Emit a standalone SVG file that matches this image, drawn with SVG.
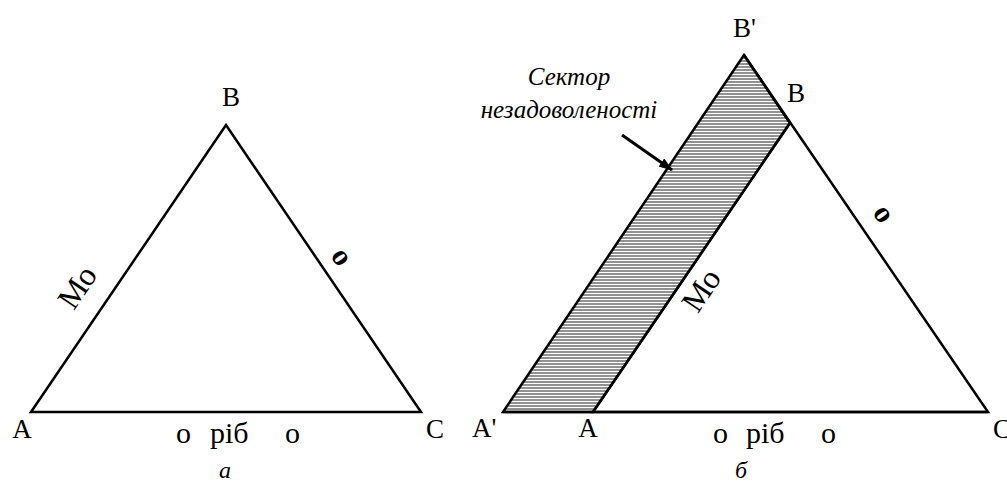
<svg xmlns="http://www.w3.org/2000/svg" width="1007" height="486" viewBox="0 0 1007 486">
<style>
.edge{fill:none;stroke:#000;stroke-width:2.5;stroke-linejoin:miter}
.lbl{font-family:"Liberation Serif","DejaVu Serif",serif;font-size:27px;fill:#000}
.cyr{font-family:"Liberation Serif","DejaVu Serif",serif;fill:#000}
.side{font-size:32px}
.bold{font-size:30px;font-weight:bold}
.bottom{font-size:30px}
.ital{font-style:italic;font-size:25px}
.cap{font-style:italic;font-size:24px}
</style>
<defs>
<pattern id="hatch" patternUnits="userSpaceOnUse" width="10" height="3">
<rect width="10" height="3" fill="#fff"/>
<line x1="0" y1="1" x2="10" y2="1" stroke="#555" stroke-width="1.3"/>
</pattern>
<marker id="arr" markerWidth="14" markerHeight="10" refX="13" refY="5" orient="auto" markerUnits="userSpaceOnUse">
<path d="M0,0 L14,5 L0,10 Z" fill="#000"/>
</marker>
</defs>

<g id="triangle-a">
<polygon class="edge" points="31,412 226,125 421,412"/>
<text class="lbl" x="231" y="106" text-anchor="middle">B</text>
<text class="lbl" x="22" y="438" text-anchor="middle">A</text>
<text class="lbl" x="435" y="438" text-anchor="middle">C</text>
<text class="cyr side" transform="translate(80,289) rotate(-55.8)" text-anchor="middle" dominant-baseline="middle">Мо</text>
<text class="cyr bold" transform="translate(340,258) rotate(55.8)" text-anchor="middle" dominant-baseline="middle">о</text>
<text class="cyr bottom" x="176" y="443">о<tspan x="210">ріб</tspan><tspan x="285">о</tspan></text>
<text class="cyr cap" x="225" y="478" text-anchor="middle">а</text>
</g>

<g id="triangle-b">
<polygon points="503,412 593,412 790,123 744,55" fill="url(#hatch)" stroke="#000" stroke-width="2.5" stroke-linejoin="miter"/>
<polygon class="edge" points="593,412 790,123 744,55 988,412"/>
<line class="edge" x1="503" y1="412" x2="988" y2="412"/>
<text class="lbl" x="733" y="37">B'</text>
<text class="lbl" x="787" y="102">B</text>
<text class="lbl" x="472" y="437">A'</text>
<text class="lbl" x="588" y="437" text-anchor="middle">A</text>
<text class="lbl" x="993" y="438">C</text>
<text class="cyr side" transform="translate(704,292) rotate(-55.8)" text-anchor="middle" dominant-baseline="middle">Мо</text>
<text class="cyr bold" transform="translate(882,215) rotate(55.8)" text-anchor="middle" dominant-baseline="middle">о</text>
<text class="cyr bottom" x="713" y="443">о<tspan x="746">ріб</tspan><tspan x="821">о</tspan></text>
<text class="cyr cap" x="741" y="478" text-anchor="middle">б</text>
</g>

<g id="sector-label">
<text class="cyr ital" x="569" y="85" text-anchor="middle">Сектор</text>
<text class="cyr ital" x="569" y="118" text-anchor="middle">незадоволеності</text>
</g>

<g id="connectors">
<line x1="622" y1="135" x2="672" y2="170" stroke="#000" stroke-width="3" marker-end="url(#arr)"/>
</g>
</svg>
